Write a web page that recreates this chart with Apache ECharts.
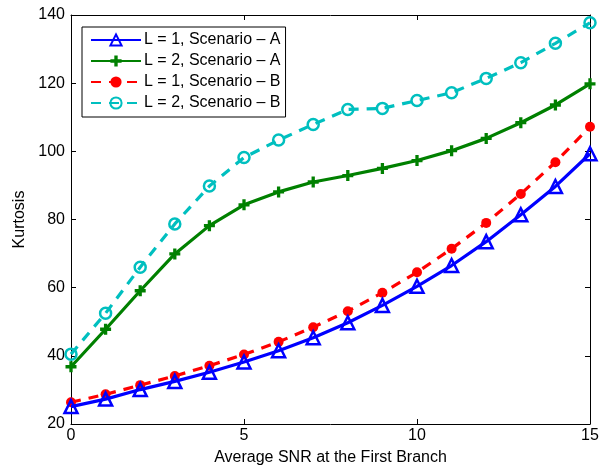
<!DOCTYPE html>
<html>
<head>
<meta charset="utf-8">
<script src="https://cdn.jsdelivr.net/npm/echarts@6/dist/echarts.min.js"></script>
<style>
  html, body { margin: 0; padding: 0; background: #fff; }
  #chart { width: 605px; height: 467px; }
</style>
</head>
<body>
<div id="chart"></div>
<script>
// Average SNR at the first branch (dB)
const snr = [0, 1, 2, 3, 4, 5, 6, 7, 8, 9, 10, 11, 12, 13, 14, 15];

// Kurtosis per configuration
const l1ScenarioA = [25.1, 27.3, 30.1, 32.5, 35.2, 38.2, 41.5, 45.3, 49.7, 54.8, 60.4, 66.5, 73.5, 81.4, 89.7, 99.3];
const l2ScenarioA = [36.8, 47.8, 59.1, 69.9, 78.2, 84.3, 88.1, 91.0, 92.9, 95.0, 97.3, 100.2, 103.8, 108.4, 113.6, 119.8];
const l1ScenarioB = [26.4, 28.7, 31.4, 34.1, 37.1, 40.4, 44.1, 48.4, 53.1, 58.5, 64.5, 71.4, 79.0, 87.5, 96.8, 107.2];
const l2ScenarioB = [40.5, 52.5, 66.0, 78.7, 89.8, 98.2, 103.3, 107.9, 112.3, 112.6, 114.9, 117.2, 121.4, 126.0, 131.7, 137.7];

const seriesNames = ['L = 1, Scenario \u2013 A', 'L = 2, Scenario \u2013 A', 'L = 1, Scenario \u2013 B', 'L = 2, Scenario \u2013 B'];

const xTicks = { min: 0, max: 15, interval: 5 };
const yTicks = { min: 20, max: 140, interval: 20 };

const FONT = 'Liberation Sans, Arial, Helvetica, sans-serif';
const plusPath = 'path://M3.5,0H6.5V3.5H10V6.5H6.5V10H3.5V6.5H0V3.5H3.5Z';
const hollow = 'rgba(255,255,255,0)';

function pairs(ys) { return snr.map((x, i) => [x, ys[i]]); }

const chart = echarts.init(document.getElementById('chart'), null, { renderer: 'canvas' });

const boxAxisCommon = {
  type: 'value',
  axisLine: { show: true, onZero: false, lineStyle: { color: '#000', width: 1 } },
  axisTick: { show: true, inside: true, length: 5, lineStyle: { color: '#000', width: 1 } },
  splitLine: { show: false }
};

chart.setOption({
  animation: false,
  backgroundColor: '#fff',
  grid: { left: 71, right: 15, top: 15, bottom: 43, containLabel: false, outerBoundsMode: 'none' },
  legend: {
    orient: 'vertical',
    left: 82,
    top: 27,
    padding: [5, 5, 6, 8],
    itemGap: 5,
    itemWidth: 50,
    itemHeight: 14,
    backgroundColor: '#fff',
    borderColor: '#000',
    borderWidth: 1,
    borderRadius: 0,
    textStyle: { fontFamily: FONT, fontSize: 16, color: '#000', padding: [0, 0, 0, -2] },
    data: seriesNames
  },
  xAxis: [
    Object.assign({}, boxAxisCommon, xTicks, {
      position: 'bottom',
      name: 'Average SNR at the First Branch',
      nameLocation: 'middle',
      nameGap: 26,
      nameTextStyle: { fontFamily: FONT, fontSize: 16, color: '#000' },
      axisLabel: { fontFamily: FONT, fontSize: 16, color: '#000', margin: 4 }
    }),
    Object.assign({}, boxAxisCommon, xTicks, {
      position: 'top',
      axisLabel: { show: false }
    })
  ],
  yAxis: [
    Object.assign({}, boxAxisCommon, yTicks, {
      position: 'left',
      name: 'Kurtosis',
      nameLocation: 'middle',
      nameGap: 39,
      nameTextStyle: { fontFamily: FONT, fontSize: 16, color: '#000' },
      axisLabel: { fontFamily: FONT, fontSize: 16, color: '#000', margin: 6 }
    }),
    Object.assign({}, boxAxisCommon, yTicks, {
      position: 'right',
      axisLabel: { show: false }
    })
  ],
  series: [
    {
      name: seriesNames[0],
      type: 'line',
      data: pairs(l1ScenarioA),
      symbol: 'triangle',
      symbolSize: 13,
      showAllSymbol: true,
      lineStyle: { color: '#0000ff', width: 3.2, type: 'solid' },
      itemStyle: { color: hollow, borderColor: '#0000ff', borderWidth: 2.5 },
      z: 4
    },
    {
      name: seriesNames[1],
      type: 'line',
      data: pairs(l2ScenarioA),
      symbol: plusPath,
      symbolSize: 11,
      showAllSymbol: true,
      lineStyle: { color: '#008000', width: 3.2, type: 'solid' },
      itemStyle: { color: '#008000', borderWidth: 0 },
      z: 3
    },
    {
      name: seriesNames[2],
      type: 'line',
      data: pairs(l1ScenarioB),
      symbol: 'circle',
      symbolSize: 10,
      showAllSymbol: true,
      lineStyle: { color: '#ff0000', width: 3.2, type: [10, 8] },
      itemStyle: { color: '#ff0000', borderWidth: 0 },
      z: 3
    },
    {
      name: seriesNames[3],
      type: 'line',
      data: pairs(l2ScenarioB),
      symbol: 'circle',
      symbolSize: 11,
      showAllSymbol: true,
      lineStyle: { color: '#00bfbf', width: 3.2, type: [10, 8] },
      itemStyle: { color: hollow, borderColor: '#00bfbf', borderWidth: 2.5 },
      z: 3
    }
  ]
});
</script>
</body>
</html>
